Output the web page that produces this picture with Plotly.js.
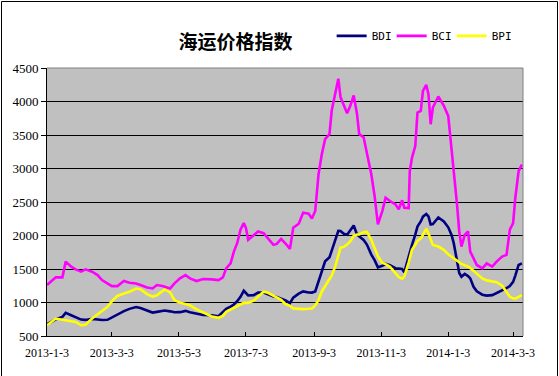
<!DOCTYPE html>
<html>
<head>
<meta charset="utf-8">
<script src="https://cdn.plot.ly/plotly-3.0.1.min.js"></script>
<style>html,body{margin:0;padding:0;background:#fff;}#chart{width:559px;height:376px;}</style>
</head>
<body>
<div id="chart"></div>
<script>
const dates = ['2013-01-03','2013-01-11','2013-01-17','2013-01-20','2013-01-25','2013-01-29','2013-02-03','2013-02-07','2013-02-13','2013-02-18','2013-02-22','2013-02-27','2013-03-03','2013-03-08','2013-03-14','2013-03-19','2013-03-25','2013-03-29','2013-04-04','2013-04-09','2013-04-13','2013-04-18','2013-04-20','2013-04-25','2013-04-29','2013-05-04','2013-05-09','2013-05-13','2013-05-19','2013-05-25','2013-06-02','2013-06-08','2013-06-12','2013-06-15','2013-06-19','2013-06-22','2013-06-25','2013-06-28','2013-07-01','2013-07-03','2013-07-05','2013-07-10','2013-07-14','2013-07-19','2013-07-23','2013-07-28','2013-07-31','2013-08-04','2013-08-08','2013-08-12','2013-08-15','2013-08-20','2013-08-24','2013-08-29','2013-09-01','2013-09-04','2013-09-07','2013-09-10','2013-09-13','2013-09-17','2013-09-19','2013-09-22','2013-09-25','2013-09-27','2013-09-30','2013-10-03','2013-10-06','2013-10-09','2013-10-12','2013-10-14','2013-10-18','2013-10-21','2013-10-25','2013-10-28','2013-10-31','2013-11-04','2013-11-07','2013-11-11','2013-11-16','2013-11-19','2013-11-22','2013-11-24','2013-11-28','2013-11-29','2013-12-01','2013-12-04','2013-12-06','2013-12-09','2013-12-11','2013-12-14','2013-12-16','2013-12-18','2013-12-20','2013-12-25','2013-12-30','2014-01-03','2014-01-06','2014-01-08','2014-01-11','2014-01-13','2014-01-15','2014-01-18','2014-01-21','2014-01-23','2014-01-26','2014-01-29','2014-02-03','2014-02-07','2014-02-12','2014-02-16','2014-02-21','2014-02-25','2014-02-28','2014-03-03','2014-03-05','2014-03-08','2014-03-11'];

const bdi = [675,750,785,845,810,785,745,740,755,745,
738,742,778,821,872,905,932,918,875,850,
860,870,880,868,855,856,875,853,830,814,
810,795,860,904,940,970,1019,1085,1175,1140,
1105,1110,1148,1150,1120,1090,1082,1058,1030,990,
1072,1132,1166,1150,1148,1165,1315,1465,1615,1675,
1767,1903,2070,2068,2026,2010,2090,2150,2015,1992,
1933,1865,1715,1632,1524,1549,1575,1555,1512,1508,
1500,1450,1690,1760,1860,2013,2133,2210,2282,2320,
2285,2165,2171,2270,2210,2122,2009,1886,1605,1440,
1385,1426,1395,1360,1235,1167,1117,1103,1110,1140,
1175,1215,1245,1308,1402,1560,1585];

const bci = [1260,1375,1375,1610,1535,1495,1460,1495,1460,1410,
1335,1285,1245,1245,1320,1295,1285,1260,1225,1210,
1260,1245,1235,1210,1285,1360,1410,1360,1320,1350,
1345,1335,1375,1510,1585,1760,1885,2085,2185,2110,
1935,2010,2060,2035,1960,1860,1875,1950,1880,1800,
2115,2175,2340,2325,2255,2365,2915,3215,3440,3515,
3865,4090,4340,4065,3940,3825,3940,4090,3815,3515,
3465,3215,2915,2590,2165,2365,2565,2515,2465,2390,
2525,2415,2410,2960,3160,3335,3835,3860,4160,4250,
4110,3660,3910,4075,3935,3785,3310,2910,2460,2060,
1835,2010,2060,1760,1660,1560,1510,1585,1535,1610,
1685,1710,2085,2185,2560,2960,3060];

const bpi = [660,760,742,735,725,710,660,667,760,818,
872,934,1017,1098,1135,1160,1208,1197,1125,1088,
1108,1170,1195,1150,1035,998,980,958,897,848,
792,772,800,860,893,918,935,965,995,995,
995,1027,1092,1160,1145,1100,1085,1040,975,950,
912,905,901,906,912,957,1040,1165,1247,1342,
1403,1527,1712,1818,1830,1865,1915,1995,2015,2015,
2048,2055,1935,1810,1692,1590,1573,1532,1430,1380,
1355,1385,1600,1660,1785,1862,1920,1953,2020,2100,
2031,1940,1860,1835,1785,1719,1680,1655,1618,1596,
1577,1556,1538,1513,1471,1427,1360,1330,1315,1302,
1251,1151,1085,1062,1057,1083,1110];

const tickDates = ['2013-01-03','2013-03-03','2013-05-03','2013-07-03','2013-09-03','2013-11-03','2014-01-03','2014-03-03'];
const tickLabels = ['2013-1-3','2013-3-3','2013-5-3','2013-7-3','2013-9-3','2013-11-3','2014-1-3','2014-3-3'];
const yTicks = [500,1000,1500,2000,2500,3000,3500,4000,4500];

const traces = [
  {x: dates, y: bdi, name: 'BDI', type: 'scatter', mode: 'lines', line: {color: '#000080', width: 2.6}},
  {x: dates, y: bci, name: 'BCI', type: 'scatter', mode: 'lines', line: {color: '#FF00FF', width: 2.6}},
  {x: dates, y: bpi, name: 'BPI', type: 'scatter', mode: 'lines', line: {color: '#FFFF00', width: 2.6}}
];

const layout = {
  width: 559, height: 376,
  margin: {l: 47, r: 36, t: 68, b: 40, pad: 0},
  paper_bgcolor: '#FFFFFF',
  plot_bgcolor: '#C0C0C0',
  title: {text: '海运价格指数', font: {family: 'Noto Sans CJK SC', size: 19, color: '#000', weight: 'bold'},
          x: 235.5/559, xref: 'container', xanchor: 'center', y: 1 - 42/376, yref: 'container', yanchor: 'middle'},
  showlegend: true,
  legend: {orientation: 'h', x: 0.598, xanchor: 'left', y: 1.12, yanchor: 'middle',
           font: {family: 'DejaVu Sans Mono', size: 11, color: '#000'}, itemwidth: 30,
           entrywidth: 15, entrywidthmode: 'pixels',
           bgcolor: 'rgba(0,0,0,0)', traceorder: 'normal'},
  xaxis: {type: 'date', range: ['2013-01-03', '2014-03-12'], tickmode: 'array', tickvals: tickDates, ticktext: tickLabels,
          ticks: 'inside', ticklen: 4, tickcolor: '#000', showgrid: false, showline: true, linecolor: '#000', linewidth: 1,
          tickfont: {family: 'Liberation Serif', size: 12, color: '#000'}, ticklabelstandoff: 6, zeroline: false, fixedrange: true},
  yaxis: {range: [500, 4500], tickmode: 'array', tickvals: yTicks, ticks: 'outside', ticklen: 5, tickcolor: '#000',
          showgrid: true, gridcolor: '#000', gridwidth: 1, showline: true, linecolor: '#000', linewidth: 1,
          tickfont: {family: 'Liberation Serif', size: 13, color: '#000'}, zeroline: false, fixedrange: true},
  shapes: [
    {type: 'path', xref: 'paper', yref: 'paper', path: 'M 0 1 L 1 1 L 1 0', line: {color: '#808080', width: 1}, layer: 'above'},
    {type: 'path', xref: 'paper', yref: 'paper',
     path: 'M ' + ((1.5-47)/476) + ' ' + ((335-376)/268) + ' L ' + ((1.5-47)/476) + ' ' + (1 + (68-1.5)/268) +
           ' L ' + ((557.5-47)/476) + ' ' + (1 + (68-1.5)/268) + ' L ' + ((557.5-47)/476) + ' ' + ((335-376)/268),
     line: {color: '#000', width: 1}, layer: 'above'}
  ]
};

Plotly.newPlot('chart', traces, layout, {displayModeBar: false, staticPlot: true});
</script>
</body>
</html>
